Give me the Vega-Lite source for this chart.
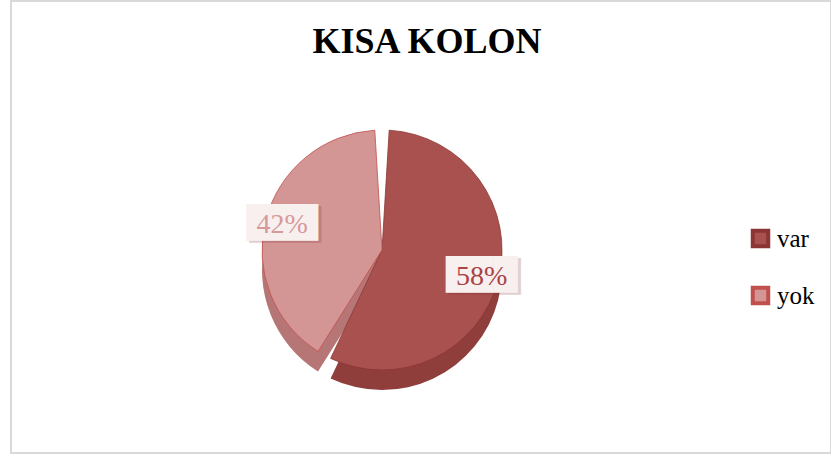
{
  "$schema": "https://vega.github.io/schema/vega-lite/v6.json",
  "width": 831,
  "height": 456,
  "autosize": {"type": "fit", "contains": "padding"},
  "padding": {"left": 11, "top": 1, "right": 0, "bottom": 3},
  "background": "white",
  "view": {"stroke": "#D9D9D9", "strokeWidth": 2},
  "title": {
    "text": "KISA KOLON",
    "font": "Liberation Serif",
    "fontSize": 36,
    "fontWeight": "bold",
    "color": "#000000",
    "anchor": "middle",
    "offset": -60,
    "dx": 6
  },
  "config": {
    "view": {"stroke": "#D9D9D9", "strokeWidth": 2},
    "legend": {
      "orient": "none",
      "legendX": 737,
      "legendY": 225,
      "title": null,
      "symbolType": "square",
      "symbolSize": 240,
      "symbolStrokeWidth": 4,
      "labelFont": "Liberation Serif",
      "labelFontSize": 25,
      "labelColor": "#000000",
      "labelOffset": 4,
      "rowPadding": 24
    }
  },
  "data": {
    "values": [
      {"k": "var", "v": 0.58},
      {"k": "yok", "v": 0.42}
    ]
  },
  "encoding": {
    "theta": {"field": "v", "type": "quantitative", "stack": true},
    "order": {"field": "k", "type": "nominal"}
  },
  "layer": [
    {
      "mark": {"type": "arc", "outerRadius": 120, "padAngle": 0.12, "xOffset": -39, "yOffset": 43},
      "encoding": {
        "color": {
          "condition": {"test": "datum.k === 'var'", "value": "#8F3E3C"},
          "value": "#B77676"
        }
      }
    },
    {
      "mark": {"type": "arc", "outerRadius": 120, "padAngle": 0.12, "xOffset": -39, "yOffset": 23, "strokeWidth": 0.8},
      "encoding": {
        "color": {
          "field": "k",
          "type": "nominal",
          "scale": {"domain": ["var", "yok"], "range": ["#A9514F", "#D49595"]}
        },
        "stroke": {
          "field": "k",
          "type": "nominal",
          "scale": {"domain": ["var", "yok"], "range": ["#8B3634", "#C0504D"]}
        }
      }
    },
    {
      "mark": {"type": "text", "radius": 103, "xOffset": -36, "yOffset": 25, "text": "███", "font": "DejaVu Sans", "fontSize": 31, "fill": "#7A2A2A", "opacity": 0.22, "align": "center", "baseline": "middle"}
    },
    {
      "mark": {"type": "text", "radius": 103, "xOffset": -39, "yOffset": 23, "text": "███", "font": "DejaVu Sans", "fontSize": 31, "fill": "#F8EFEF", "align": "center", "baseline": "middle"}
    },
    {
      "mark": {"type": "text", "radius": 103, "xOffset": -39, "yOffset": 24, "font": "Liberation Serif", "fontSize": 28, "align": "center", "baseline": "middle"},
      "encoding": {
        "text": {"field": "v", "type": "quantitative", "format": ".0%"},
        "color": {
          "condition": {"test": "datum.k === 'var'", "value": "#A94444"},
          "value": "#D69A9A"
        }
      }
    }
  ]
}
